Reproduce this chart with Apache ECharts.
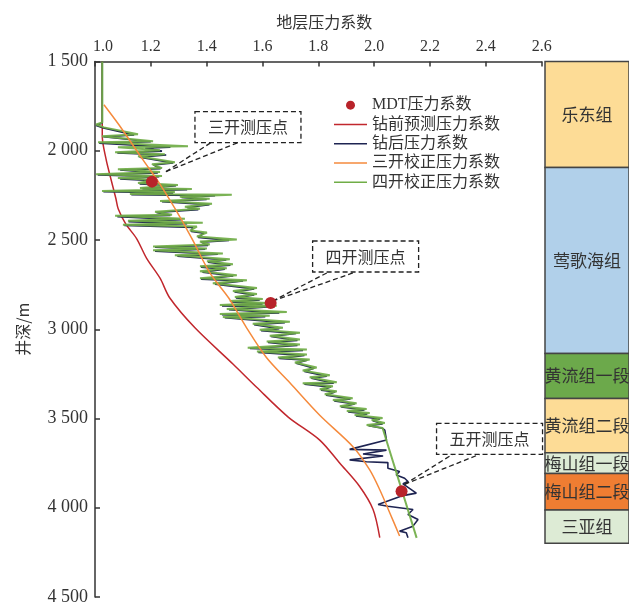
<!DOCTYPE html>
<html>
<head>
<meta charset="utf-8">
<script src="https://cdn.jsdelivr.net/npm/echarts@6/dist/echarts.min.js"></script>
<style>
html, body { margin:0; padding:0; background:#fff; }
#chartDiv { width:629px; height:606px; }
</style>
</head>
<body>
<div id="chartDiv"></div>
<script>
////////////////////////////////////////////data////////////////////////////////////////////
// [压力系数, 井深]
var predrillCoef = [
	[1.026,1500],[1.026,1919],[1.040,2050],[1.054,2140],[1.075,2269],[1.083,2325],[1.110,2410],
	[1.149,2492],[1.185,2603],[1.233,2714],[1.268,2825],[1.358,2992],[1.495,3196],[1.579,3325],
	[1.692,3492],[1.805,3621],[1.877,3751],[1.948,3881],[1.996,4010],[2.020,4168]
];
var postdrillCoef = [
	[1.026,1500],[1.026,1845],
	[1.004,1858],[1.030,1872],[1.140,1912],[1.030,1922],[1.200,1950],[1.015,1958],[1.270,1980],[1.180,1986],
	[1.240,2002],[1.080,2012],[1.255,2024],[1.160,2036],[1.280,2068],[1.210,2080],[1.235,2100],[1.090,2108],
	[1.225,2124],[1.010,2135],[1.230,2146],[1.090,2158],[1.210,2168],[1.160,2186],[1.290,2196],[1.170,2212],
	[1.330,2218],[1.030,2230],[1.280,2236],[1.130,2246],[1.430,2252],[1.310,2262],[1.400,2273],[1.240,2286],
	[1.410,2302],[1.330,2318],[1.370,2330],[1.220,2346],[1.270,2362],[1.080,2369],[1.310,2386],[1.120,2397],
	[1.330,2408],[1.105,2418],[1.350,2430],[1.345,2452],[1.390,2462],[1.370,2486],[1.480,2502],[1.380,2512],
	[1.405,2530],[1.215,2541],[1.395,2552],[1.215,2563],[1.440,2580],[1.295,2591],[1.470,2612],[1.405,2624],
	[1.485,2641],[1.380,2652],[1.465,2663],[1.385,2680],[1.495,2702],[1.380,2719],[1.530,2730],[1.430,2747],
	[1.570,2774],[1.500,2791],[1.570,2808],[1.505,2824],[1.590,2836],[1.490,2847],[1.600,2858],[1.455,2869],
	[1.630,2874],[1.480,2891],[1.660,2908],[1.455,2919],[1.610,2930],[1.465,2936],[1.680,2963],[1.570,2974],
	[1.660,2997],[1.595,3008],[1.720,3024],[1.630,3041],[1.725,3063],[1.620,3074],[1.725,3091],[1.555,3108],
	[1.745,3119],[1.585,3130],[1.750,3147],[1.660,3163],[1.760,3174],[1.720,3191],[1.785,3219],[1.750,3236],
	[1.830,3263],[1.775,3274],[1.855,3302],[1.750,3308],[1.845,3324],[1.810,3341],[1.860,3352],[1.828,3369],
	[1.915,3391],[1.857,3402],[1.930,3419],[1.882,3436],[1.965,3452],[1.907,3463],[1.975,3474],[1.935,3486],
	[2.020,3502],[1.995,3513],[2.030,3530],[1.980,3541],[2.030,3555],
	[2.038,3565],[2.044,3621],[1.912,3673],[2.044,3677],[1.960,3699],[2.032,3710],[1.912,3732],[1.972,3742],
	[2.049,3747],[2.049,3779],[2.091,3797],[2.079,3816],[2.109,3835],[2.121,3853],[2.103,3866],[2.151,3918],
	[2.103,3932],[2.014,3982],[2.049,3992],[2.139,4010],[2.121,4038],[2.157,4066],[2.139,4103],[2.091,4131],
	[2.115,4140],[2.121,4168]
];
var thirdCoef = [
	[1.032,1742],[1.085,1853],[1.170,2047],[1.232,2186],[1.308,2381],[1.350,2501],[1.412,2686],
	[1.479,2825],[1.543,2992],[1.614,3158],[1.698,3300],[1.805,3482],[1.924,3658],[1.984,3788],
	[2.020,3899],[2.056,4029],[2.091,4158]
];
var fourthCoef = [
	[1.026,1500],[1.026,1842],
	[1.004,1853],[1.032,1869],[1.154,1908],[1.025,1919],[1.208,1947],[1.011,1953],[1.333,1975],[1.082,1981],
	[1.233,1997],[1.072,2008],[1.250,2019],[1.154,2031],[1.286,2064],[1.204,2075],[1.240,2097],[1.082,2103],
	[1.233,2119],[1.004,2131],[1.240,2142],[1.082,2153],[1.215,2164],[1.154,2181],[1.297,2192],[1.161,2208],
	[1.347,2214],[1.025,2225],[1.286,2231],[1.125,2242],[1.490,2247],[1.304,2258],[1.411,2269],[1.233,2281],
	[1.419,2297],[1.322,2314],[1.376,2325],[1.215,2342],[1.276,2358],[1.072,2364],[1.322,2381],[1.118,2392],
	[1.386,2403],[1.100,2414],[1.365,2425],[1.340,2447],[1.401,2458],[1.365,2481],[1.508,2497],[1.376,2508],
	[1.411,2525],[1.208,2536],[1.401,2547],[1.208,2558],[1.458,2575],[1.286,2586],[1.483,2608],[1.401,2619],
	[1.494,2636],[1.376,2647],[1.472,2658],[1.376,2675],[1.508,2697],[1.376,2714],[1.544,2725],[1.422,2742],
	[1.580,2769],[1.494,2786],[1.580,2803],[1.501,2819],[1.601,2831],[1.483,2842],[1.615,2853],[1.447,2864],
	[1.651,2869],[1.472,2886],[1.687,2903],[1.447,2914],[1.626,2925],[1.458,2931],[1.698,2958],[1.565,2969],
	[1.673,2992],[1.590,3003],[1.734,3019],[1.626,3036],[1.734,3058],[1.615,3069],[1.734,3086],[1.547,3103],
	[1.759,3114],[1.580,3125],[1.759,3142],[1.655,3158],[1.769,3169],[1.716,3186],[1.794,3214],[1.744,3231],
	[1.841,3258],[1.769,3269],[1.866,3297],[1.744,3303],[1.852,3319],[1.805,3336],[1.866,3347],[1.823,3364],
	[1.923,3386],[1.852,3397],[1.937,3414],[1.877,3431],[1.973,3447],[1.902,3458],[1.984,3469],[1.930,3481],
	[2.030,3497],[1.991,3508],[2.038,3525],[1.973,3536],[2.030,3553],[2.152,4169]
];
var mdtPoints = [[1.204,2173],[1.629,2853],[2.098,3908]];
var mdtNames = ['三开测压点','四开测压点','五开测压点'];

var layerNames = ['乐东组','莺歌海组','黄流组一段','黄流组二段','梅山组一段','梅山组二段','三亚组'];
var layerTops = [1500,2090,3125,3375,3677,3792,3995];
var layerBottoms = [2090,3125,3375,3677,3792,3995,4180];

var coefTicks = [1.0,1.2,1.4,1.6,1.8,2.0,2.2,2.4,2.6];
var depthTicks = [1500,2000,2500,3000,3500,4000,4500];

////////////////////////////////////////////styles////////////////////////////////////////////
var layerColors = ['#FDDC96','#B1D0EA','#6CA94B','#FDDC96','#DDEBD5','#EF7D32','#DDEBD5'];
var calloutLayout = [
	{box:[43,-70], from:[14,-10]},
	{box:[42,-62], from:[2,-2]},
	{box:[35,-68], from:[3,-7]}
];
var serifFont = "'Liberation Serif', 'Noto Sans CJK SC', serif";
var cjkFont = "'Noto Sans CJK SC', sans-serif";
var lineIcon = 'path://M0,0H33V1.5H0Z';

var option = {
	animation: false,
	backgroundColor: '#fff',
	legend: {
		orient: 'vertical',
		left: 329,
		top: 90.5,
		itemWidth: 33,
		itemHeight: 9,
		itemGap: 0,
		textStyle: { fontSize: 16, lineHeight: 19.3, color: '#333', fontFamily: serifFont },
		data: [
			{ name: 'MDT压力系数', icon: 'circle' },
			{ name: '钻前预测压力系数', icon: lineIcon },
			{ name: '钻后压力系数', icon: lineIcon },
			{ name: '三开校正压力系数', icon: lineIcon },
			{ name: '四开校正压力系数', icon: lineIcon }
		]
	},
	grid: [
		{ left: 95, top: 61.5, width: 446.7, height: 539.2 },
		{ left: 545, top: 61.5, width: 90, height: 539.2 }
	],
	xAxis: [
		{
			type: 'value',
			position: 'top',
			min: coefTicks[0],
			max: coefTicks[coefTicks.length - 1],
			interval: 0.2,
			name: '地层压力系数',
			nameLocation: 'middle',
			nameGap: 32,
			nameTextStyle: { fontSize: 16, color: '#333', fontFamily: cjkFont, padding: [0,0,0,12] },
			axisLine: { show: true, lineStyle: { color: '#333', width: 1.5 } },
			axisTick: { show: true, inside: true, length: 5, lineStyle: { color: '#333', width: 1.5 } },
			axisLabel: {
				margin: 7,
				fontSize: 16,
				color: '#333',
				fontFamily: serifFont,
				formatter: function (v) {
					if (v === coefTicks[0]) return '{a|' + v.toFixed(1) + '}';
					return v.toFixed(1);
				},
				rich: { a: { fontSize: 16, color: '#333', fontFamily: serifFont, padding: [0,0,0,16] } }
			},
			splitLine: { show: false }
		},
		{ type: 'value', gridIndex: 1, min: 0, max: 1, show: false }
	],
	yAxis: [
		{
			type: 'value',
			inverse: true,
			min: depthTicks[0],
			max: depthTicks[depthTicks.length - 1],
			interval: 500,
			name: '井深/m',
			nameLocation: 'middle',
			nameGap: 64,
			nameRotate: 90,
			nameTextStyle: { fontSize: 16, color: '#333', fontFamily: cjkFont },
			axisLine: { show: true, lineStyle: { color: '#333', width: 1.5 } },
			axisTick: { show: true, inside: true, length: 5, lineStyle: { color: '#333', width: 1.5 } },
			axisLabel: {
				margin: 7,
				fontSize: 18,
				color: '#333',
				fontFamily: serifFont,
				formatter: function (v) { return String(v).replace(/(\d)(\d{3})$/, '$1 $2'); }
			},
			splitLine: { show: false }
		},
		{ type: 'value', gridIndex: 1, inverse: true, min: depthTicks[0], max: depthTicks[depthTicks.length - 1], show: false }
	],
	series: [
		{
			name: '钻前预测压力系数',
			type: 'line',
			symbol: 'none',
			smooth: 0.3,
			data: predrillCoef,
			lineStyle: { color: '#C1272D', width: 1.5 },
			itemStyle: { color: '#C1272D' }
		},
		{
			name: '钻后压力系数',
			type: 'line',
			symbol: 'none',
			data: postdrillCoef,
			lineStyle: { color: '#1E2452', width: 1.6 },
			itemStyle: { color: '#1E2452' }
		},
		{
			name: '四开校正压力系数',
			type: 'line',
			symbol: 'none',
			data: fourthCoef,
			lineStyle: { color: '#70AD47', width: 2, opacity: 0.92 },
			itemStyle: { color: '#70AD47' }
		},
		{
			name: '三开校正压力系数',
			type: 'line',
			symbol: 'none',
			smooth: 0.3,
			data: thirdCoef,
			lineStyle: { color: '#F58A3C', width: 1.5 },
			itemStyle: { color: '#F58A3C' }
		},
		{
			name: 'MDT压力系数',
			type: 'scatter',
			symbol: 'circle',
			symbolSize: 12,
			data: mdtPoints,
			itemStyle: { color: '#B8232A', opacity: 1 },
			z: 5
		},
		{
			// 测压点标注框
			type: 'custom',
			data: mdtPoints.map(function (p, i) { return [p[0], p[1], i]; }),
			z: 4,
			renderItem: function (params, api) {
				var i = api.value(2);
				var pt = api.coord([api.value(0), api.value(1)]);
				var lay = calloutLayout[i];
				var bx = pt[0] + lay.box[0], by = pt[1] + lay.box[1];
				var bw = 106, bh = 31;
				var sx = pt[0] + lay.from[0], sy = pt[1] + lay.from[1];
				var dash = { stroke: '#222', lineWidth: 1.3, lineDash: [5, 3] };
				return {
					type: 'group',
					children: [
						{ type: 'line', shape: { x1: sx, y1: sy, x2: bx + 16, y2: by + bh }, style: dash },
						{ type: 'line', shape: { x1: sx, y1: sy, x2: bx + 43, y2: by + bh }, style: dash },
						{ type: 'rect', shape: { x: bx, y: by, width: bw, height: bh },
							style: { fill: '#fff', stroke: '#222', lineWidth: 1.3, lineDash: [5, 3] } },
						{ type: 'text', x: bx + bw / 2, y: by + bh / 2,
							style: { text: mdtNames[i], fill: '#333', fontSize: 16, fontFamily: cjkFont,
								align: 'center', verticalAlign: 'middle' } }
					]
				};
			}
		},
		{
			// 地层柱
			type: 'custom',
			xAxisIndex: 1,
			yAxisIndex: 1,
			data: layerTops.map(function (t, i) { return [0, t, layerBottoms[i], i]; }),
			encode: { x: 0, y: [1, 2] },
			renderItem: function (params, api) {
				var i = api.value(3);
				var p1 = api.coord([0, api.value(1)]);
				var p2 = api.coord([1, api.value(2)]);
				return {
					type: 'group',
					children: [
						{ type: 'rect', shape: { x: p1[0], y: p1[1], width: p2[0] - p1[0], height: p2[1] - p1[1] },
							style: { fill: layerColors[i], stroke: '#444', lineWidth: 1.5 } },
						{ type: 'text', x: (p1[0] + p2[0]) / 2, y: (p1[1] + p2[1]) / 2,
							style: { text: layerNames[i], fill: '#333', fontSize: 17, fontFamily: cjkFont,
								align: 'center', verticalAlign: 'middle' } }
					]
				};
			}
		}
	]
};

var chartDiv = echarts.init(document.getElementById('chartDiv'));
chartDiv.setOption(option);
</script>
</body>
</html>
